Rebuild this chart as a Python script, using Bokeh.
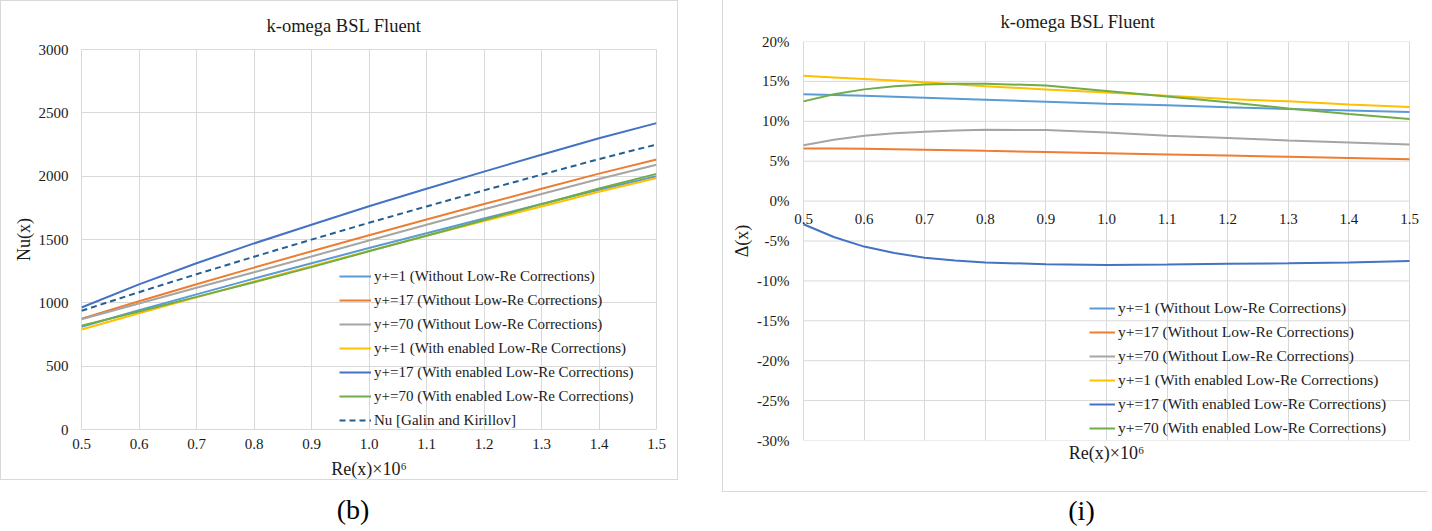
from bokeh.plotting import figure
from bokeh.models import (Range1d, FixedTicker, PrintfTickFormatter, Legend,
                          LegendItem, LinearAxis, Div, Spacer)
from bokeh.layouts import row, column
from bokeh.embed import file_html
from bokeh.resources import INLINE

# ---------------- data ----------------
re_x = [0.5, 0.6, 0.7, 0.8, 0.9, 1.0, 1.1, 1.2, 1.3, 1.4, 1.5]
re_x_d = [0.5, 0.55, 0.6, 0.65, 0.7, 0.75, 0.8, 0.9, 1.0, 1.1, 1.2, 1.3, 1.4, 1.5]
x_ticks = [0.5, 0.6, 0.7, 0.8, 0.9, 1.0, 1.1, 1.2, 1.3, 1.4, 1.5]
nu_ticks = [0, 500, 1000, 1500, 2000, 2500, 3000]
delta_ticks = [-30, -25, -20, -15, -10, -5, 0, 5, 10, 15, 20]

series_labels = [
    "y+=1 (Without Low-Re Corrections)",
    "y+=17 (Without Low-Re Corrections)",
    "y+=70 (Without Low-Re Corrections)",
    "y+=1 (With enabled Low-Re Corrections)",
    "y+=17 (With enabled Low-Re Corrections)",
    "y+=70 (With enabled Low-Re Corrections)",
]
galin_label = "Nu [Galin and Kirillov]"
chart_title = "k-omega BSL Fluent"

# Nu(x), panel (b)
nu_yp1_wo = [811, 941, 1067, 1191, 1312, 1433, 1550, 1666, 1780, 1893, 1999]
nu_yp17_wo = [875, 1013, 1147, 1278, 1407, 1534, 1658, 1780, 1900, 2020, 2132]
nu_yp70_wo = [871, 995, 1119, 1242, 1366, 1492, 1617, 1739, 1859, 1978, 2090]
nu_yp1_with = [790, 918, 1043, 1168, 1289, 1410, 1529, 1646, 1761, 1877, 1985]
nu_yp17_with = [963, 1146, 1313, 1469, 1617, 1763, 1901, 2036, 2169, 2299, 2419]
nu_yp70_with = [820, 932, 1047, 1163, 1282, 1407, 1530, 1654, 1779, 1902, 2018]
nu_galin = [937, 1084, 1226, 1364, 1499, 1632, 1761, 1888, 2012, 2135, 2250]

# Delta(x) in %, panel (i)  (at re_x_d)
d_yp1_wo = [13.4, 13.3, 13.2, 13.08, 12.95, 12.82, 12.7, 12.45, 12.2, 12.0, 11.75, 11.55, 11.35, 11.15]
d_yp17_wo = [6.6, 6.58, 6.55, 6.5, 6.45, 6.38, 6.3, 6.15, 6.0, 5.85, 5.7, 5.55, 5.4, 5.25]
d_yp70_wo = [7.0, 7.7, 8.2, 8.5, 8.7, 8.85, 8.95, 8.9, 8.6, 8.2, 7.9, 7.6, 7.35, 7.1]
d_yp1_with = [15.7, 15.5, 15.3, 15.1, 14.9, 14.65, 14.4, 14.0, 13.6, 13.2, 12.8, 12.5, 12.1, 11.8]
d_yp17_with = [-2.9, -4.5, -5.7, -6.5, -7.1, -7.45, -7.7, -7.9, -8.0, -7.95, -7.85, -7.8, -7.7, -7.5]
d_yp70_with = [12.5, 13.4, 14.0, 14.4, 14.6, 14.7, 14.7, 14.5, 13.8, 13.1, 12.4, 11.6, 10.9, 10.3]

colors = ["#5B9BD5", "#ED7D31", "#A5A5A5", "#FFC000", "#4472C4", "#70AD47"]
galin_color = "#255E91"

FONT = "Liberation Serif"
FONTQ = "'Liberation Serif', serif"
GRID = "#D9D9D9"
TXT = "#1a1a1a"


def style_axis(ax, ticks, fmt, label, standoff, label_standoff, size="15px"):
    ax.ticker = FixedTicker(ticks=ticks)
    ax.formatter = PrintfTickFormatter(format=fmt)
    ax.axis_label = label
    ax.axis_label_text_font = FONT
    ax.axis_label_text_font_size = "18px"
    ax.axis_label_text_font_style = "normal"
    ax.axis_label_text_color = TXT
    ax.axis_label_standoff = label_standoff
    ax.major_label_text_font = FONTQ
    ax.major_label_text_font_size = size
    ax.major_label_text_color = TXT
    ax.major_label_standoff = standoff
    ax.axis_line_color = None
    ax.major_tick_line_color = None
    ax.minor_tick_line_color = None
    ax.major_tick_out = 0
    ax.major_tick_in = 0
    ax.minor_tick_out = 0
    ax.minor_tick_in = 0


def style_title(p, offset, standoff, valign):
    p.title.text_font = FONTQ
    p.title.text_font_size = "18.5px"
    p.title.text_font_style = "normal"
    p.title.text_color = TXT
    p.title.align = "left"
    p.title.offset = offset
    p.title.standoff = standoff
    p.title.vertical_align = valign


def style_common(p):
    p.background_fill_color = "white"
    p.border_fill_color = "white"
    for g in p.xgrid:
        g.ticker = FixedTicker(ticks=x_ticks)
        g.grid_line_color = GRID


# ---------------- panel (b) ----------------
p1 = figure(width=678, height=480, x_range=Range1d(0.5, 1.5), y_range=Range1d(0, 3000),
            output_backend="svg", toolbar_location=None, title=chart_title,
            min_border_left=80, min_border_right=23, min_border_top=48, min_border_bottom=49,
            styles={"border": "1px solid #D9D9D9"})
style_common(p1)
style_title(p1, 185, 24, "top")
p1.outline_line_color = GRID
for g in p1.ygrid:
    g.ticker = FixedTicker(ticks=nu_ticks)
    g.grid_line_color = GRID
style_axis(p1.xaxis[0], x_ticks, "%.1f", "Re(x)×10⁶", 9, 7)
style_axis(p1.yaxis[0], nu_ticks, "%d", "Nu(x)", 13, 2)

nu_series = [nu_yp1_wo, nu_yp17_wo, nu_yp70_wo, nu_yp1_with, nu_yp17_with, nu_yp70_with]
items1 = []
for ys, c, lab in zip(nu_series, colors, series_labels):
    r = p1.line(re_x, ys, line_color=c, line_width=2)
    items1.append(LegendItem(label=lab, renderers=[r]))
rg = p1.line(re_x, nu_galin, line_color=galin_color, line_width=2, line_dash="6 4")
items1.append(LegendItem(label=galin_label, renderers=[rg]))

leg1 = Legend(items=items1, location=(258, -1), glyph_width=32, glyph_height=20,
              label_height=20, spacing=4, label_standoff=3, padding=0, margin=0,
              background_fill_alpha=0, border_line_alpha=0,
              label_text_font=FONT, label_text_font_size="15px", label_text_color=TXT)
p1.add_layout(leg1)

# ---------------- panel (i) ----------------
# the frame is widened by 12 px on each side so that the 0.5 / 1.5 tick labels on the
# axis drawn at y = 0 are not clipped; the plot-area box is drawn by the grid lines.
pad = 12 / 606
p2 = figure(width=705, height=492, x_range=Range1d(0.5 - pad, 1.5 + pad), y_range=Range1d(-30, 20),
            output_backend="svg", toolbar_location=None, title=chart_title,
            x_axis_location=None,
            min_border_left=68, min_border_right=7, min_border_top=41, min_border_bottom=52,
            styles={"border-left": "1px solid #D9D9D9", "border-bottom": "1px solid #D9D9D9"})
style_common(p2)
style_title(p2, 209, 18, "middle")
p2.outline_line_color = None
for g in p2.ygrid:
    g.visible = False
p2.segment(x0=x_ticks[0], x1=x_ticks[-1], y0=delta_ticks, y1=delta_ticks,
           line_color=GRID, line_width=1, level="underlay")
style_axis(p2.yaxis[0], delta_ticks, "%d%%", "Δ(x)", 2, 2)

lab_ax = LinearAxis()
style_axis(lab_ax, [], "%.1f", "Re(x)×10⁶", 0, 2)
p2.add_layout(lab_ax, "below")

tick_ax = LinearAxis(fixed_location=0)
style_axis(tick_ax, x_ticks, "%.1f", "", 13, 0)
p2.add_layout(tick_ax, "below")

d_series = [d_yp1_wo, d_yp17_wo, d_yp70_wo, d_yp1_with, d_yp17_with, d_yp70_with]
items2 = []
for ys, c, lab in zip(d_series, colors, series_labels):
    r = p2.line(re_x_d, ys, line_color=c, line_width=2)
    items2.append(LegendItem(label=lab, renderers=[r]))

leg2 = Legend(items=items2, location=(298, 2), glyph_width=26, glyph_height=20,
              label_height=20, spacing=4, label_standoff=3, padding=0, margin=0,
              background_fill_alpha=0, border_line_alpha=0,
              label_text_font=FONT, label_text_font_size="15.5px", label_text_color=TXT)
p2.add_layout(leg2)

# ---------------- captions ----------------
cap_style = ("font-family:'Liberation Serif';font-size:28px;line-height:28px;color:#000;"
             "text-align:center;box-sizing:border-box;")
cap_b = Div(text=f'<div style="{cap_style}width:678px;padding-left:18px;padding-top:11px">(b)</div>',
            width=678, height=51)
cap_i = Div(text=f'<div style="{cap_style}width:705px;padding-left:4px;padding-top:0px">(i)</div>',
            width=705, height=35, styles={"border-bottom": "1px solid #D9D9D9"})

layout = row(column(p1, cap_b), Spacer(width=34), column(p2, cap_i))

open("out.html", "w").write(file_html(layout, INLINE, title=chart_title))
